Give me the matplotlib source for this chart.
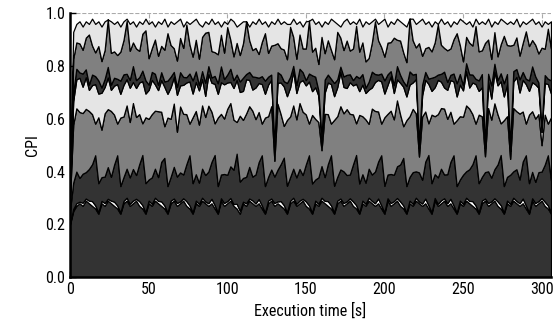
import numpy as np
import matplotlib
matplotlib.use("Agg")
import matplotlib.pyplot as plt
from matplotlib import font_manager

# pick a narrow face if one is installed
installed = {f.name for f in font_manager.fontManager.ttflist}
narrow = [n for n in ['Liberation Sans Narrow', 'Roboto Condensed', 'Open Sans Condensed'] if n in installed]
plt.rcParams['font.family'] = narrow + ['DejaVu Sans']
plt.rcParams['font.stretch'] = 'condensed'

# sample times (s), one every 2 s
time = np.arange(0, 307, 2)

# CPI components, bottom to top
base = [0.20, 0.25, 0.27, 0.28, 0.27, 0.29, 0.28, 0.27, 0.26, 0.24, 0.28, 0.27, 0.29, 0.28,
        0.27, 0.26, 0.24, 0.28, 0.29, 0.27, 0.28, 0.29, 0.27, 0.26, 0.24, 0.28, 0.27, 0.29,
        0.28, 0.27, 0.26, 0.24, 0.28, 0.29, 0.27, 0.28, 0.29, 0.27, 0.26, 0.24, 0.28, 0.27,
        0.29, 0.28, 0.27, 0.28, 0.26, 0.24, 0.29, 0.27, 0.28, 0.29, 0.27, 0.26, 0.24, 0.28,
        0.27, 0.29, 0.28, 0.27, 0.28, 0.26, 0.24, 0.28, 0.29, 0.27, 0.28, 0.27, 0.26, 0.24,
        0.28, 0.29, 0.27, 0.28, 0.29, 0.27, 0.26, 0.24, 0.28, 0.27, 0.29, 0.28, 0.27, 0.26,
        0.24, 0.28, 0.29, 0.27, 0.28, 0.29, 0.27, 0.26, 0.24, 0.28, 0.27, 0.29, 0.28, 0.27,
        0.28, 0.26, 0.24, 0.29, 0.27, 0.28, 0.29, 0.27, 0.26, 0.24, 0.28, 0.27, 0.29, 0.28,
        0.27, 0.28, 0.26, 0.24, 0.29, 0.27, 0.28, 0.29, 0.27, 0.28, 0.26, 0.24, 0.28, 0.27,
        0.29, 0.28, 0.27, 0.26, 0.24, 0.28, 0.29, 0.27, 0.28, 0.29, 0.27, 0.26, 0.24, 0.28,
        0.27, 0.29, 0.28, 0.27, 0.28, 0.26, 0.24, 0.29, 0.27, 0.28, 0.29, 0.27, 0.26, 0.24]

thin = [0.004, 0.008, 0.010, 0.006, 0.012, 0.008, 0.010, 0.018, 0.012, 0.006, 0.009, 0.011, 0.007, 0.010,
        0.016, 0.012, 0.005, 0.009, 0.011, 0.008, 0.010, 0.007, 0.018, 0.013, 0.006, 0.010, 0.008, 0.011,
        0.009, 0.017, 0.012, 0.005, 0.010, 0.008, 0.011, 0.007, 0.009, 0.018, 0.012, 0.006, 0.010, 0.008,
        0.011, 0.007, 0.010, 0.017, 0.013, 0.005, 0.009, 0.011, 0.008, 0.010, 0.007, 0.018, 0.012, 0.006,
        0.010, 0.008, 0.011, 0.009, 0.016, 0.012, 0.005, 0.010, 0.008, 0.011, 0.007, 0.018, 0.013, 0.006,
        0.009, 0.011, 0.008, 0.010, 0.007, 0.017, 0.012, 0.005, 0.010, 0.008, 0.011, 0.009, 0.018, 0.012,
        0.006, 0.010, 0.008, 0.011, 0.007, 0.009, 0.017, 0.013, 0.005, 0.010, 0.008, 0.011, 0.009, 0.010,
        0.018, 0.012, 0.006, 0.009, 0.011, 0.008, 0.010, 0.017, 0.012, 0.005, 0.010, 0.008, 0.011, 0.007,
        0.009, 0.018, 0.013, 0.006, 0.010, 0.008, 0.011, 0.009, 0.010, 0.017, 0.012, 0.005, 0.010, 0.008,
        0.011, 0.009, 0.018, 0.012, 0.006, 0.010, 0.008, 0.011, 0.007, 0.009, 0.017, 0.013, 0.005, 0.010,
        0.008, 0.011, 0.009, 0.010, 0.018, 0.012, 0.006, 0.009, 0.011, 0.008, 0.010, 0.016, 0.012, 0.006]

lower_dark = [0.05, 0.10, 0.12, 0.09, 0.11, 0.10, 0.12, 0.14, 0.19, 0.11, 0.09, 0.10, 0.12, 0.09,
              0.14, 0.19, 0.10, 0.09, 0.11, 0.10, 0.12, 0.09, 0.14, 0.19, 0.11, 0.08, 0.10, 0.11,
              0.09, 0.15, 0.18, 0.10, 0.09, 0.12, 0.10, 0.11, 0.09, 0.14, 0.19, 0.11, 0.10, 0.08,
              0.11, 0.10, 0.12, 0.14, 0.19, 0.10, 0.09, 0.11, 0.10, 0.12, 0.13, 0.19, 0.11, 0.09,
              0.10, 0.12, 0.09, 0.11, 0.14, 0.19, 0.10, 0.09, 0.11, 0.10, 0.12, 0.14, 0.18, 0.10,
              0.09, 0.11, 0.10, 0.12, 0.09, 0.14, 0.19, 0.11, 0.08, 0.10, 0.12, 0.09, 0.14, 0.19,
              0.10, 0.09, 0.11, 0.12, 0.10, 0.09, 0.14, 0.19, 0.11, 0.10, 0.08, 0.11, 0.10, 0.12,
              0.14, 0.19, 0.10, 0.09, 0.11, 0.10, 0.12, 0.14, 0.18, 0.10, 0.09, 0.12, 0.10, 0.11,
              0.09, 0.14, 0.19, 0.11, 0.09, 0.10, 0.12, 0.09, 0.11, 0.14, 0.19, 0.10, 0.08, 0.11,
              0.10, 0.12, 0.14, 0.19, 0.11, 0.09, 0.10, 0.12, 0.09, 0.11, 0.14, 0.19, 0.10, 0.09,
              0.11, 0.10, 0.12, 0.09, 0.14, 0.19, 0.11, 0.10, 0.08, 0.11, 0.10, 0.14, 0.19, 0.12]

lower_mid = [0.05, 0.22, 0.24, 0.25, 0.23, 0.24, 0.22, 0.19, 0.12, 0.25, 0.18, 0.24, 0.22, 0.25,
             0.19, 0.12, 0.26, 0.23, 0.24, 0.21, 0.25, 0.22, 0.19, 0.12, 0.25, 0.23, 0.24, 0.22,
             0.25, 0.19, 0.12, 0.26, 0.22, 0.24, 0.17, 0.25, 0.23, 0.19, 0.12, 0.25, 0.24, 0.22,
             0.24, 0.22, 0.25, 0.19, 0.12, 0.26, 0.23, 0.21, 0.25, 0.24, 0.19, 0.12, 0.25, 0.22,
             0.24, 0.23, 0.25, 0.21, 0.19, 0.12, 0.26, 0.23, 0.24, 0.06, 0.25, 0.19, 0.12, 0.25,
             0.23, 0.24, 0.22, 0.25, 0.24, 0.19, 0.12, 0.26, 0.23, 0.21, 0.06, 0.24, 0.19, 0.12,
             0.25, 0.23, 0.24, 0.22, 0.25, 0.23, 0.19, 0.12, 0.26, 0.22, 0.24, 0.17, 0.25, 0.23,
             0.19, 0.12, 0.26, 0.23, 0.24, 0.21, 0.25, 0.19, 0.12, 0.25, 0.23, 0.24, 0.22, 0.06,
             0.24, 0.19, 0.12, 0.26, 0.22, 0.24, 0.23, 0.25, 0.21, 0.19, 0.12, 0.25, 0.24, 0.22,
             0.25, 0.23, 0.19, 0.12, 0.26, 0.23, 0.06, 0.24, 0.22, 0.25, 0.19, 0.12, 0.25, 0.23,
             0.06, 0.24, 0.22, 0.25, 0.19, 0.12, 0.26, 0.23, 0.24, 0.22, 0.10, 0.19, 0.12, 0.24]

mid_light = [0.02, 0.09, 0.11, 0.13, 0.10, 0.12, 0.08, 0.11, 0.15, 0.09, 0.14, 0.10, 0.12, 0.08,
             0.11, 0.15, 0.09, 0.12, 0.10, 0.13, 0.08, 0.11, 0.12, 0.16, 0.09, 0.11, 0.13, 0.10,
             0.08, 0.12, 0.15, 0.09, 0.12, 0.10, 0.14, 0.08, 0.11, 0.12, 0.16, 0.09, 0.11, 0.13,
             0.10, 0.08, 0.12, 0.11, 0.15, 0.09, 0.12, 0.13, 0.10, 0.08, 0.12, 0.16, 0.09, 0.11,
             0.13, 0.10, 0.08, 0.12, 0.11, 0.15, 0.09, 0.12, 0.10, 0.04, 0.08, 0.12, 0.15, 0.09,
             0.11, 0.13, 0.10, 0.08, 0.12, 0.11, 0.16, 0.09, 0.12, 0.10, 0.03, 0.08, 0.12, 0.15,
             0.09, 0.11, 0.13, 0.10, 0.08, 0.12, 0.11, 0.15, 0.09, 0.12, 0.10, 0.13, 0.08, 0.11,
             0.12, 0.16, 0.09, 0.11, 0.13, 0.10, 0.08, 0.12, 0.15, 0.09, 0.12, 0.10, 0.13, 0.03,
             0.08, 0.12, 0.15, 0.09, 0.11, 0.13, 0.10, 0.08, 0.11, 0.12, 0.16, 0.09, 0.12, 0.10,
             0.13, 0.08, 0.12, 0.15, 0.09, 0.11, 0.03, 0.10, 0.08, 0.12, 0.11, 0.16, 0.09, 0.12,
             0.03, 0.10, 0.13, 0.08, 0.12, 0.15, 0.09, 0.11, 0.13, 0.10, 0.05, 0.12, 0.15, 0.09]

upper_dark = [0.01, 0.03, 0.04, 0.02, 0.05, 0.03, 0.02, 0.04, 0.03, 0.05, 0.02, 0.03, 0.04, 0.02,
              0.03, 0.02, 0.05, 0.04, 0.02, 0.03, 0.06, 0.03, 0.02, 0.04, 0.05, 0.02, 0.03, 0.04,
              0.02, 0.03, 0.02, 0.05, 0.04, 0.02, 0.03, 0.05, 0.03, 0.02, 0.03, 0.05, 0.04, 0.02,
              0.03, 0.05, 0.03, 0.02, 0.03, 0.04, 0.06, 0.02, 0.03, 0.05, 0.03, 0.02, 0.04, 0.05,
              0.02, 0.03, 0.05, 0.04, 0.02, 0.03, 0.05, 0.03, 0.02, 0.02, 0.04, 0.03, 0.02, 0.05,
              0.04, 0.02, 0.03, 0.05, 0.03, 0.02, 0.03, 0.06, 0.04, 0.02, 0.02, 0.05, 0.03, 0.02,
              0.05, 0.03, 0.02, 0.04, 0.05, 0.03, 0.02, 0.03, 0.05, 0.04, 0.02, 0.03, 0.06, 0.03,
              0.02, 0.03, 0.05, 0.04, 0.02, 0.03, 0.05, 0.03, 0.02, 0.04, 0.05, 0.03, 0.02, 0.02,
              0.04, 0.03, 0.02, 0.05, 0.04, 0.02, 0.03, 0.06, 0.03, 0.02, 0.03, 0.05, 0.04, 0.02,
              0.03, 0.05, 0.03, 0.02, 0.04, 0.05, 0.02, 0.03, 0.05, 0.03, 0.02, 0.03, 0.05, 0.04,
              0.02, 0.04, 0.03, 0.05, 0.03, 0.02, 0.04, 0.06, 0.03, 0.02, 0.02, 0.03, 0.02, 0.05]

upper_mid = [0.01, 0.13, 0.10, 0.11, 0.09, 0.12, 0.19, 0.11, 0.09, 0.13, 0.10, 0.11, 0.18, 0.12,
             0.10, 0.09, 0.11, 0.13, 0.20, 0.11, 0.09, 0.12, 0.10, 0.14, 0.19, 0.10, 0.09, 0.13,
             0.11, 0.10, 0.12, 0.18, 0.12, 0.09, 0.10, 0.13, 0.11, 0.20, 0.11, 0.09, 0.12, 0.10,
             0.13, 0.19, 0.13, 0.10, 0.09, 0.11, 0.12, 0.10, 0.18, 0.11, 0.09, 0.12, 0.10, 0.13,
             0.20, 0.12, 0.10, 0.11, 0.09, 0.13, 0.18, 0.09, 0.11, 0.38, 0.11, 0.10, 0.12, 0.09,
             0.19, 0.11, 0.10, 0.13, 0.09, 0.12, 0.20, 0.09, 0.11, 0.10, 0.38, 0.10, 0.13, 0.11,
             0.09, 0.18, 0.11, 0.10, 0.13, 0.09, 0.12, 0.19, 0.10, 0.12, 0.10, 0.09, 0.11, 0.20,
             0.13, 0.10, 0.09, 0.12, 0.11, 0.18, 0.10, 0.13, 0.11, 0.09, 0.20, 0.13, 0.10, 0.38,
             0.11, 0.09, 0.12, 0.10, 0.13, 0.19, 0.11, 0.09, 0.12, 0.10, 0.13, 0.19, 0.11, 0.09,
             0.10, 0.12, 0.11, 0.20, 0.11, 0.09, 0.38, 0.13, 0.10, 0.12, 0.09, 0.11, 0.18, 0.11,
             0.38, 0.10, 0.12, 0.09, 0.11, 0.18, 0.13, 0.10, 0.12, 0.11, 0.30, 0.10, 0.19, 0.12]

# total CPI (top of the stack); the last component fills the gap up to it
total = [0.35, 0.93, 0.96, 0.97, 0.95, 0.97, 0.96, 0.98, 0.96, 0.97, 0.95, 0.97, 0.96, 0.97,
         0.96, 0.97, 0.95, 0.97, 0.98, 0.96, 0.97, 0.95, 0.97, 0.96, 0.98, 0.96, 0.97, 0.95,
         0.97, 0.96, 0.98, 0.95, 0.97, 0.96, 0.97, 0.98, 0.95, 0.97, 0.96, 0.97, 0.98, 0.96,
         0.95, 0.97, 0.96, 0.98, 0.96, 0.97, 0.95, 0.97, 0.96, 0.98, 0.97, 0.95, 0.96, 0.97,
         0.97, 0.95, 0.97, 0.96, 0.98, 0.96, 0.97, 0.95, 0.97, 0.96, 0.98, 0.96, 0.97, 0.96,
         0.96, 0.98, 0.96, 0.97, 0.95, 0.97, 0.96, 0.98, 0.96, 0.97, 0.95, 0.97, 0.96, 0.98,
         0.97, 0.96, 0.95, 0.97, 0.98, 0.96, 0.97, 0.96, 0.98, 0.95, 0.97, 0.96, 0.97, 0.98,
         0.96, 0.97, 0.98, 0.95, 0.97, 0.96, 0.98, 0.97, 0.96, 0.95, 0.97, 0.98, 0.96, 0.97,
         0.98, 0.96, 0.97, 0.95, 0.97, 0.96, 0.98, 0.96, 0.97, 0.95, 0.97, 0.96, 0.98, 0.97,
         0.96, 0.97, 0.95, 0.98, 0.96, 0.97, 0.96, 0.98, 0.95, 0.97, 0.96, 0.98, 0.97, 0.96,
         0.97, 0.96, 0.98, 0.95, 0.97, 0.96, 0.97, 0.98, 0.96, 0.97, 0.95, 0.97, 0.96, 0.97]

layers = [base, thin, lower_dark, lower_mid, mid_light, upper_dark, upper_mid]
top_light = np.clip(np.array(total) - np.sum(layers, axis=0), 0, None)
layers.append(top_light)

dark, mid, light = '#333333', '#808080', '#e5e5e5'
colors = [dark, 'white', dark, mid, light, dark, mid, light]

fig, ax = plt.subplots(figsize=(5.56, 3.35), dpi=100)
fig.subplots_adjust(left=0.126, right=0.991, bottom=0.173, top=0.960)

ax.stackplot(time, *layers, colors=colors, edgecolor='black', linewidth=0.9)

ax.set_xlim(0, 306)
ax.set_ylim(0, 1.0)
ax.set_xticks([0, 50, 100, 150, 200, 250, 300])
ax.set_yticks([0.0, 0.2, 0.4, 0.6, 0.8, 1.0])
ax.set_yticklabels(['0.0', '0.2', '0.4', '0.6', '0.8', '1.0'])
ax.tick_params(direction='in', labelsize=11.5, length=4, width=1)
ax.grid(True, linestyle='--', color='#aaaaaa', linewidth=0.8)
ax.set_axisbelow(True)

for s in ['top', 'right']:
    ax.spines[s].set_visible(False)
for s in ['left', 'bottom']:
    ax.spines[s].set_linewidth(1.8)

ax.set_xlabel('Execution time [s]', fontsize=11.5)
ax.set_ylabel('CPI', fontsize=11.5)

fig.savefig('out.png', dpi=100)
